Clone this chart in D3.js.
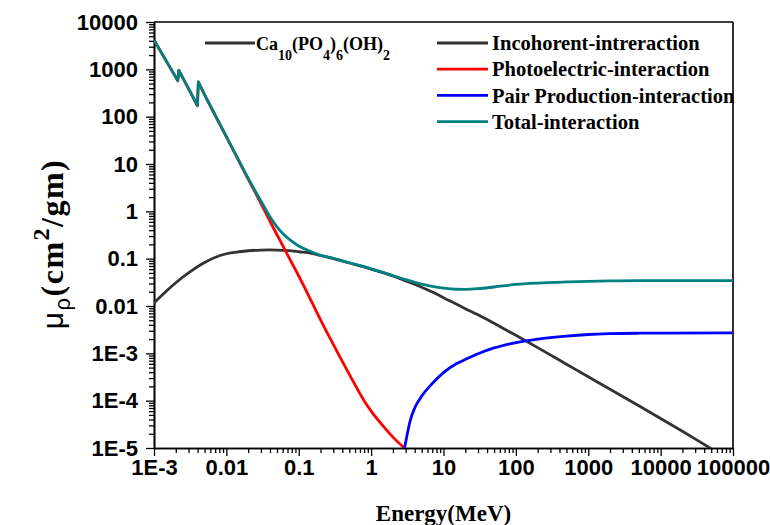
<!DOCTYPE html>
<html>
<head>
<meta charset="utf-8">
<script src="https://cdnjs.cloudflare.com/ajax/libs/d3/7.8.5/d3.min.js"></script>
<style>
body{margin:0;background:#fff;}
</style>
</head>
<body>
<div id="canva"></div>
<script>
// energy in MeV, mu/rho in cm2/gm
var incohE = [0.001,0.0015,0.002,0.003,0.005,0.008,0.01,0.015,0.02,0.03,0.04,0.05,0.06,0.08,0.1,0.15,0.2,0.3,0.5,0.8,1,1.5,2,3,5,8,10,15,20,30,50,80,100,200,500,1000,2000,5000,10000,20000,50000,100000];
var incohV = [0.0116,0.021,0.031,0.05,0.083,0.115,0.127,0.140,0.147,0.152,0.153,0.152,0.150,0.146,0.140,0.130,0.117,0.100,0.081,0.067,0.060,0.050,0.043,0.034,0.025,0.018,0.015,0.011,0.0088,0.0065,0.0043,0.0029,0.0024,0.00132,0.00059,0.00032,0.000175,0.000078,0.000042,0.0000225,0.0000097,0.0000052];

var photoE = [0.001,0.0015,0.00213,0.0022,0.003,0.00398,0.0041,0.005,0.006,0.008,0.01,0.015,0.02,0.03,0.04,0.05,0.06,0.08,0.1,0.15,0.2,0.3,0.5,0.8,1,1.5,2,3];
var photoV = [4150,1440,575,950,390,170,540,290,168,72,37.5,11.3,4.8,1.48,0.62,0.32,0.19,0.082,0.043,0.0125,0.0051,0.00155,0.00036,0.0001,0.00006,0.000028,0.000017,0.0000095];

var pairE = [2.9,3.5,4,5,7,10,15,20,30,50,100,200,500,1000,2000,5000,10000,100000];
var pairV = [0.00001,0.00004,0.00007,0.000125,0.00023,0.00039,0.0006,0.00074,0.00098,0.0013,0.00168,0.002,0.00232,0.0025,0.0026,0.00266,0.00268,0.0027];

var totalE = [0.001,0.0015,0.00213,0.0022,0.003,0.00398,0.0041,0.005,0.006,0.008,0.01,0.015,0.02,0.03,0.04,0.05,0.06,0.08,0.1,0.15,0.2,0.3,0.5,0.8,1,1.5,2,3,5,8,10,15,20,30,50,100,200,500,1000,2000,5000,10000,100000];
var totalV = [4170,1450,580,955,392,172,543,292,170,73,38,11.5,5.0,1.65,0.77,0.47,0.34,0.235,0.185,0.14,0.118,0.102,0.082,0.068,0.061,0.051,0.044,0.036,0.029,0.025,0.0238,0.0226,0.0225,0.0232,0.0252,0.0285,0.0305,0.0322,0.0332,0.0338,0.0342,0.0343,0.0344];

// K absorption edges (P, Ca): energy just above each jump
var edgeTops = [0.0022,0.0041];

var xTicks = [1e-3,1e-2,1e-1,1,10,100,1000,10000,100000];
var xTickLabels = ["1E-3","0.01","0.1","1","10","100","1000","10000","100000"];
var yTicks = [1e-5,1e-4,1e-3,1e-2,1e-1,1,10,100,1000,10000];
var yTickLabels = ["1E-5","1E-4","1E-3","0.01","0.1","1","10","100","1000","10000"];

var legendNames = ["Incohorent-intreraction","Photoelectric-interaction","Pair Production-interaction","Total-interaction"];
var legendColors = ["#333333","#ff0000","#0000ff","#008080"];

function zip(a,b){
	return a.map(function(d,i){return [d,b[i]];});
}

var series = [
	{name:legendNames[0], color:legendColors[0], values:zip(incohE,incohV)},
	{name:legendNames[1], color:legendColors[1], values:zip(photoE,photoV)},
	{name:legendNames[2], color:legendColors[2], values:zip(pairE,pairV)},
	{name:legendNames[3], color:legendColors[3], values:zip(totalE,totalV)}
];

var margin = {top: 22, left: 154, right: 37, bottom: 77},
	width = 770 - margin.left - margin.right,
	height = 525 - margin.top - margin.bottom;

var svg = d3.select("#canva")
	.append("svg")
	.attr("width", width + margin.left + margin.right)
	.attr("height", height + margin.top + margin.bottom)
	.append("g")
	.attr("transform","translate(" + margin.left + "," + margin.top + ")");

var x = d3.scaleLog().domain([1e-3,1e5]).range([0,width]);
var y = d3.scaleLog().domain([1e-5,1e4]).range([height,0]);

var sansFont = "'Liberation Sans', Arial, sans-serif";
var serifFont = "'Liberation Serif', 'Times New Roman', serif";

svg.append("clipPath")
	.attr("id","plotclip")
	.append("rect")
	.attr("width", width)
	.attr("height", height);

// minor ticks
var xMinor = x.ticks().filter(function(d){ return xTicks.indexOf(d) < 0; });
var yMinor = y.ticks().filter(function(d){ return yTicks.indexOf(d) < 0; });

svg.append("g")
	.attr("class","axis")
	.attr("transform","translate(0," + height + ")")
	.call(d3.axisBottom(x).tickValues(xMinor).tickSize(5).tickSizeOuter(0).tickFormat(""));

svg.append("g")
	.attr("class","axis")
	.call(d3.axisLeft(y).tickValues(yMinor).tickSize(5).tickSizeOuter(0).tickFormat(""));

svg.append("g")
	.attr("class","axis major")
	.attr("transform","translate(0," + height + ")")
	.call(d3.axisBottom(x).tickValues(xTicks).tickSize(8).tickPadding(3).tickSizeOuter(0)
		.tickFormat(function(d,i){ return xTickLabels[i]; }));

svg.append("g")
	.attr("class","axis major")
	.call(d3.axisLeft(y).tickValues(yTicks).tickSize(8).tickPadding(8).tickSizeOuter(0)
		.tickFormat(function(d,i){ return yTickLabels[i]; }));

svg.selectAll(".axis path").attr("stroke","#000").attr("stroke-width",1.6);
svg.selectAll(".axis line").attr("stroke","#000").attr("stroke-width",1.3);
svg.selectAll(".axis text")
	.attr("fill","#000")
	.style("font-family", sansFont)
	.style("font-weight","bold")
	.style("font-size","22px");

// top and right frame
svg.append("line")
	.attr("x1",0).attr("x2",width).attr("y1",0).attr("y2",0)
	.attr("stroke","#000").attr("stroke-width",1.6);
svg.append("line")
	.attr("x1",width).attr("x2",width).attr("y1",0).attr("y2",height)
	.attr("stroke","#000").attr("stroke-width",1.6);

var line = d3.line()
	.x(function(d){ return x(d[0]); })
	.y(function(d){ return y(d[1]); })
	.curve(d3.curveMonotoneX);

// smooth pieces, straight jump at the absorption edges
function curvePath(values){
	var segs = [[]];
	values.forEach(function(d){
		if (edgeTops.indexOf(d[0]) >= 0) segs.push([]);
		segs[segs.length-1].push(d);
	});
	return segs.map(function(s,i){
		var p = line(s);
		return i ? "L" + p.slice(1) : p;
	}).join("");
}

svg.append("g")
	.attr("clip-path","url(#plotclip)")
	.selectAll(".curve")
	.data(series)
	.enter()
	.append("path")
	.attr("class","curve")
	.attr("fill","none")
	.attr("stroke", function(d){ return d.color; })
	.attr("stroke-width", 2.8)
	.attr("stroke-linejoin","round")
	.attr("d", function(d){ return curvePath(d.values); });

// legend
var legend = svg.append("g").attr("transform","translate(283,21)");
var rows = legend.selectAll(".row")
	.data(series)
	.enter()
	.append("g")
	.attr("class","row")
	.attr("transform", function(d,i){ return "translate(0," + (i*26.2) + ")"; });
rows.append("line")
	.attr("x1",0).attr("x2",51)
	.attr("stroke", function(d){ return d.color; })
	.attr("stroke-width", 2.8);
rows.append("text")
	.attr("x",55)
	.attr("dy","0.35em")
	.style("font-family", serifFont)
	.style("font-weight","bold")
	.style("font-size","20.5px")
	.text(function(d){ return d.name; });

// compound label
var formula = svg.append("g").attr("transform","translate(51,21)");
formula.append("line")
	.attr("x1",0).attr("x2",50)
	.attr("stroke","#333333")
	.attr("stroke-width",2.8);
var ft = formula.append("text")
	.attr("x",51)
	.attr("y",7)
	.style("font-family", serifFont)
	.style("font-weight","bold")
	.style("font-size","18px");
var parts = [["Ca",0],["10",1],["(PO",0],["4",1],[")",0],["6",1],["(OH)",0],["2",1]];
var prev = 0;
parts.forEach(function(p){
	var shift = p[1] ? 10 : 0;
	ft.append("tspan")
		.attr("dy", shift - prev)
		.style("font-size", p[1] ? "14px" : "18px")
		.text(p[0]);
	prev = shift;
});

// axis titles
svg.append("text")
	.attr("x", width/2)
	.attr("y", height + 73)
	.attr("text-anchor","middle")
	.style("font-family", serifFont)
	.style("font-weight","bold")
	.style("font-size","23px")
	.text("Energy(MeV)");

var yt = svg.append("text")
	.attr("transform","translate(" + (63 - margin.left) + "," + (height/2 + 9) + ") rotate(-90)")
	.attr("text-anchor","middle")
	.style("font-family", serifFont)
	.style("font-weight","bold")
	.style("font-size","32px")
	.style("letter-spacing","1.5px");
yt.append("tspan").style("font-family", sansFont).style("font-weight","normal").style("font-size","30px").text("\u03bc");
yt.append("tspan").attr("dy",7).style("font-family", sansFont).style("font-weight","normal").style("font-size","22px").text("\u03c1");
yt.append("tspan").attr("dy",-7).text("(cm");
yt.append("tspan").attr("dy",-14).style("font-size","24px").text("2");
yt.append("tspan").attr("dy",14).text("/gm)");
</script>
</body>
</html>
